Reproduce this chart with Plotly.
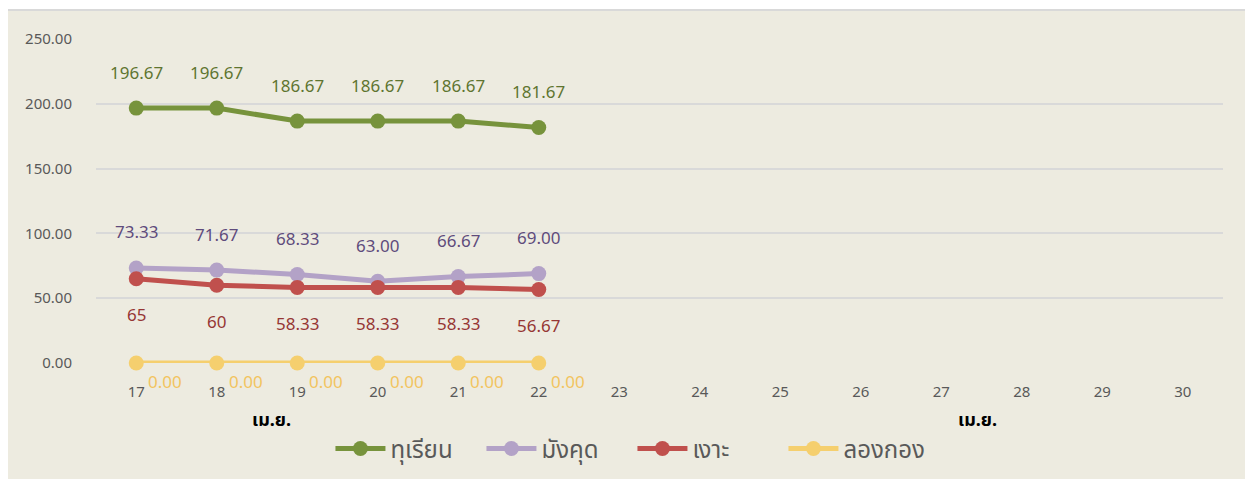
import plotly.graph_objects as go

days = ["17", "18", "19", "20", "21", "22", "23", "24", "25", "26", "27", "28", "29", "30"]
durian = [196.67, 196.67, 186.67, 186.67, 186.67, 181.67]
mangosteen = [73.33, 71.67, 68.33, 63.00, 66.67, 69.00]
rambutan = [65, 60, 58.33, 58.33, 58.33, 56.67]
longkong = [0, 0, 0, 0, 0, 0]
rambutan_labels = ["65", "60", "58.33", "58.33", "58.33", "56.67"]
y_ticks = [0, 50, 100, 150, 200, 250]
month = "เม.ย."

FONT = "Noto Sans, Noto Sans Thai, Tahoma, sans-serif"

series = [
    ("ทุเรียน", durian, "#77933C", "#5F7530", [f"{v:.2f}" for v in durian], "top"),
    ("มังคุด", mangosteen, "#B3A2C7", "#5F4B7C", [f"{v:.2f}" for v in mangosteen], "top"),
    ("เงาะ", rambutan, "#C0504D", "#963634", rambutan_labels, "bottom"),
    ("ลองกอง", longkong, "#F5CF6E", "#F2C45F", [f"{v:.2f}" for v in longkong], "right"),
]

idx = list(range(len(days)))

fig = go.Figure()
for name, vals, color, tcolor, labels, pos in series:
    xs_ = idx[:len(vals)]
    fig.add_trace(go.Scatter(
        x=xs_, y=vals, name=name, mode="lines+markers",
        line=dict(color=color, width=5),
        marker=dict(color=color, size=15),
        cliponaxis=False,
    ))
    for d, v, t in zip(xs_, vals, labels):
        if pos == "top":
            xs, ys = 0, 36
        elif pos == "bottom":
            xs, ys = 0, -36
        else:
            xs, ys = 29, -18
        fig.add_annotation(x=d, y=v, xref="x", yref="y", text=t, showarrow=False,
                           xshift=xs, yshift=ys,
                           font=dict(family=FONT, size=17, color=tcolor))

for xp in [0.156, 0.782]:
    fig.add_annotation(x=xp, y=-0.172, xref="paper", yref="paper", text=f"<b>{month}</b>",
                       xanchor="center", yanchor="middle",
                       showarrow=False, font=dict(family=FONT, size=18, color="#000000"))

fig.add_shape(type="rect", xref="paper", yref="paper",
              x0=-0.079, x1=1.0204, y0=-0.5, y1=1.0895,
              fillcolor="#EDEBE0", line=dict(color="#D9D9D9", width=2), layer="below")

fig.update_layout(
    width=1253, height=479,
    margin=dict(l=88, r=38, t=31, b=124, autoexpand=False),
    paper_bgcolor="#FFFFFF", plot_bgcolor="rgba(0,0,0,0)",
    font=dict(family=FONT, color="#595959"),
    showlegend=True,
    legend=dict(orientation="h", x=0.476, xanchor="center", y=-0.265, yanchor="middle",
                font=dict(family=FONT, size=24, color="#595959"), bgcolor="rgba(0,0,0,0)",
                itemwidth=50, entrywidth=86, entrywidthmode="pixels"),
    xaxis=dict(range=[-0.5, 13.5], tickvals=idx, ticktext=days,
               showgrid=False, showline=False, zeroline=False,
               tickfont=dict(size=15, color="#595959"), ticks="",
               ticklabelstandoff=18),
    yaxis=dict(range=[0, 250], tickvals=y_ticks, ticktext=[f"{v:.2f}" for v in y_ticks],
               showgrid=True, gridcolor="#D9D9D9", gridwidth=1.5, zeroline=False,
               showline=False, tickfont=dict(size=15, color="#595959"), ticks="",
               ticklabelstandoff=23),
)

fig.write_html("out.html")
